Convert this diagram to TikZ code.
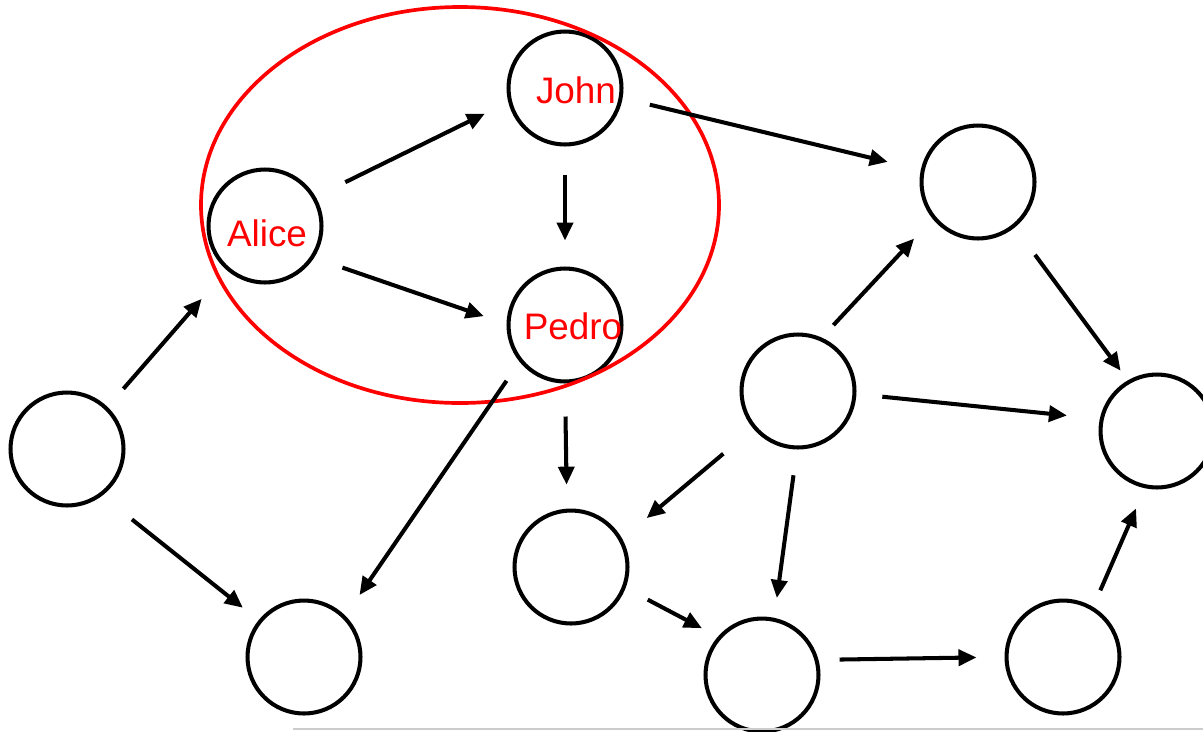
\documentclass[tikz,border=0pt]{standalone}
\usepackage{fontspec}
\setmainfont{Liberation Sans}
\usepackage{xcolor}
\usepackage{tikz}
\usetikzlibrary{arrows.meta,positioning}

\begin{document}
\begin{tikzpicture}[x=0.02cm,y=-0.02cm,
  vert/.style={circle,draw,line width=2.3pt,minimum size=2.26cm,inner sep=0pt},
  lbl/.style={text=red,font=\fontsize{21}{25}\selectfont,inner sep=0pt},
  arr/.style={line width=2.3pt,-{Triangle[length=0.36cm,width=0.32cm]}}]
  \useasboundingbox (0,0) rectangle (1203,731);
  % people in the group
  \node[vert,label={[lbl,xshift=0.04cm,yshift=-0.14cm]center:Alice}] (alice) at (265,226) {};
  \node[vert,label={[lbl,xshift=0.22cm,yshift=-0.04cm]center:John}] (john) at (565,88) {};
  \node[vert,label={[lbl,xshift=0.16cm,yshift=-0.02cm]center:Pedro}] (pedro) at (565,325) {};
  % other vertices
  \foreach \n/\x/\y in {left/67/449, lowleft/304/657, mid/571/567, low/762/675,
                        lowright/1063/657, hub/798/391, top/978/182, right/1157/431}{
    \node[vert] (\n) at (\x,\y) {};
  }
  % the group
  \draw[red,line width=2.1pt] (460,205) ellipse [x radius=259, y radius=198];
  % directed edges: source.angle/target.angle/gap at start/gap at end (px)
  \foreach \s/\p/\t/\q/\a/\b in {left/46/alice/229/24/38, left/-53/lowleft/141/38/20,
      alice/30/john/194/33/26, alice/-33/pedro/179/30/24, john/-90/pedro/90/28/26,
      john/-10/top/168/28/34, pedro/219/lowleft/45/23/25, pedro/-90/mid/94/33/24,
      hub/66/top/-141/17/27, hub/-140/mid/29/39/32, hub/-91/low/78/26/20,
      hub/-3/right/168/26/33, top/-51/right/120/34/12, mid/-21/low/139/25/18,
      low/15/lowright/180/21/28, lowright/59/right/-102/18/22}{
    \draw[arr,shorten <={\a*0.02cm},shorten >={\b*0.02cm}] (\s.\p) -- (\t.\q);
  }
  \draw[gray!40,line width=0.6pt] (293,729) -- (1203,729);
\end{tikzpicture}
\end{document}
